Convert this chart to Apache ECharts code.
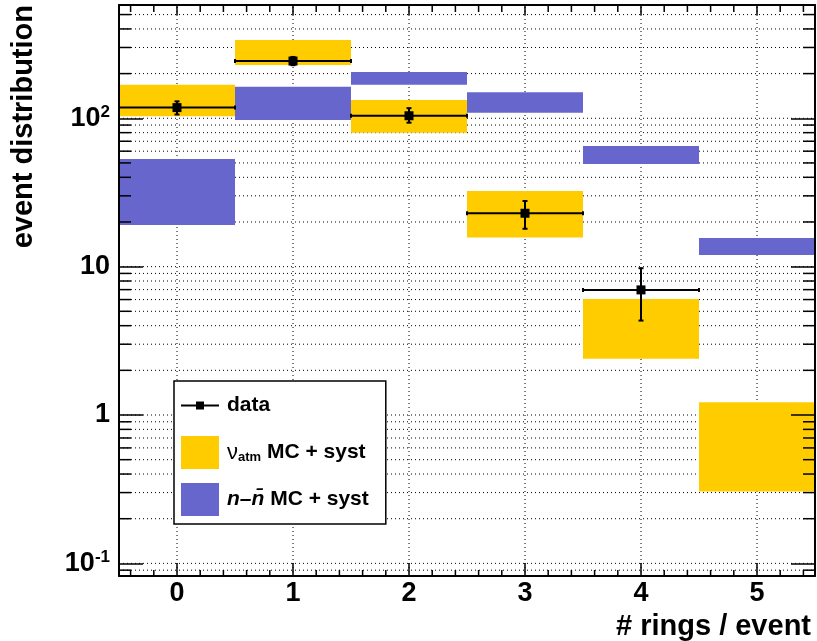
<!DOCTYPE html>
<html>
<head>
<meta charset="utf-8">
<script src="https://cdn.jsdelivr.net/npm/echarts@6/dist/echarts.min.js"></script>
<style>html,body{margin:0;padding:0;background:#fff}#chart{width:817px;height:641px}</style>
</head>
<body>
<div id="chart"></div>
<script>
// bins of ring multiplicity
var bins = [0, 1, 2, 3, 4, 5];
// atmospheric nu MC band (low / high)
var nuLow  = [103, 229, 80, 15.7, 2.39, 0.305];
var nuHigh = [168, 337, 133, 32.4, 6.06, 1.22];
// n-nbar MC band (low / high)
var nnLow  = [19.1, 97.4, 168, 109, 49.2, 12.0];
var nnHigh = [53.2, 163, 205, 150, 65.1, 15.6];
// data points with errors
var dataBins = [0, 1, 2, 3, 4];
var dataVal  = [118, 243, 104, 22.9, 6.97];
var dataLow  = [106, 228, 93.4, 18.0, 4.33];
var dataHigh = [130, 259, 117, 27.7, 9.76];
var seriesNames = ['data', 'ν_atm MC + syst', 'n–n̄ MC + syst'];

var yMin = 0.0822, yMax = 580, xMin = -0.5, xMax = 5.5;
var font = '"Liberation Sans", Helvetica, Arial, sans-serif';
var yellow = '#ffcc00', purple = '#6666cc';

// grid line / minor tick positions (decoration only)
var gridY = [], minorY = [];
for (var d = -2; d <= 3; d++) {
    for (var m = 1; m <= 9; m++) {
        var v = +(m * Math.pow(10, d)).toPrecision(3);
        if (v > yMin && v < yMax) {
            gridY.push(v);
            if (m > 1) minorY.push(v);
        }
    }
}
var minorX = [];
for (var k = -2; k <= 27; k++) {
    if (k % 5 !== 0) minorX.push(+(k * 0.2).toFixed(1));
}

function renderBox(params, api) {
    var x = api.value(0);
    var p1 = api.coord([x - 0.5, api.value(2)]);
    var p2 = api.coord([x + 0.5, api.value(1)]);
    return {
        type: 'rect',
        shape: {x: p1[0], y: p1[1], width: p2[0] - p1[0], height: p2[1] - p1[1]},
        style: {fill: api.visual('color')}
    };
}

function renderData(params, api) {
    var x = api.value(0), y = api.value(1);
    var c = api.coord([x, y]);
    var l = api.coord([x - 0.5, y]);
    var r = api.coord([x + 0.5, y]);
    var lo = api.coord([x, api.value(2)]);
    var hi = api.coord([x, api.value(3)]);
    var st = {stroke: '#000', lineWidth: 2};
    return {type: 'group', children: [
        {type: 'line', shape: {x1: l[0], y1: c[1], x2: r[0], y2: c[1]}, style: st},
        {type: 'line', shape: {x1: l[0], y1: c[1] - 2, x2: l[0], y2: c[1] + 2}, style: st},
        {type: 'line', shape: {x1: r[0], y1: c[1] - 2, x2: r[0], y2: c[1] + 2}, style: st},
        {type: 'line', shape: {x1: c[0], y1: lo[1], x2: c[0], y2: hi[1]}, style: st},
        {type: 'line', shape: {x1: c[0] - 2.5, y1: lo[1], x2: c[0] + 2.5, y2: lo[1]}, style: st},
        {type: 'line', shape: {x1: c[0] - 2.5, y1: hi[1], x2: c[0] + 2.5, y2: hi[1]}, style: st},
        {type: 'rect', shape: {x: c[0] - 4.5, y: c[1] - 4.5, width: 9, height: 9}, style: {fill: '#000'}}
    ]};
}

var dotted = {stroke: '#000', lineWidth: 1, lineDash: [1, 3]};

function renderHGrid(params, api) {
    var a = api.coord([xMin, api.value(1)]);
    var b = api.coord([xMax, api.value(1)]);
    return {type: 'line', shape: {x1: a[0], y1: a[1], x2: b[0], y2: b[1]}, style: dotted};
}
function renderVGrid(params, api) {
    var a = api.coord([api.value(0), yMin]);
    var b = api.coord([api.value(0), yMax]);
    return {type: 'line', shape: {x1: a[0], y1: a[1], x2: b[0], y2: b[1]}, style: dotted};
}
function renderYMinor(params, api) {
    var a = api.coord([xMin, api.value(1)]);
    var b = api.coord([xMax, api.value(1)]);
    var st = {stroke: '#000', lineWidth: 1.5};
    return {type: 'group', children: [
        {type: 'line', shape: {x1: a[0], y1: a[1], x2: a[0] + 12, y2: a[1]}, style: st},
        {type: 'line', shape: {x1: b[0] - 12, y1: b[1], x2: b[0], y2: b[1]}, style: st}
    ]};
}
function renderXMinor(params, api) {
    var a = api.coord([api.value(0), yMin]);
    var b = api.coord([api.value(0), yMax]);
    var st = {stroke: '#000', lineWidth: 1.5};
    return {type: 'group', children: [
        {type: 'line', shape: {x1: a[0], y1: a[1], x2: a[0], y2: a[1] - 6}, style: st},
        {type: 'line', shape: {x1: b[0], y1: b[1], x2: b[0], y2: b[1] + 7}, style: st}
    ]};
}

function yFmt(v) {
    var e = Math.log10(v), r = Math.round(e);
    if (Math.abs(e - r) > 1e-6) return '';
    if (r === 0) return '{b|1}';
    if (r === 1) return '{b|10}';
    return '{b|10}{s|' + r + '}';
}

var frameLine = {show: true, onZero: false, lineStyle: {color: '#000', width: 2}};
var labelFont = {fontSize: 27, fontWeight: 'bold', fontFamily: font, color: '#000'};

// legend marker for data: line + square, padded with tiny corner dots so it spans 38x33
var dataIcon = 'path://M0,0L0.01,0L0,0.01Z M38,33L37.99,33L38,32.99Z ' +
               'M0,15.5L38,15.5L38,17.5L0,17.5Z M15,12.5L23,12.5L23,20.5L15,20.5Z';

var option = {
    animation: false,
    backgroundColor: '#fff',
    grid: {left: 119, top: 5, right: 2, bottom: 65, containLabel: false, outerBoundsMode: 'none'},
    xAxis: [{
        type: 'value', min: xMin, max: xMax, position: 'bottom', z: 10,
        axisLine: frameLine,
        axisTick: {show: true, inside: true, length: 13, lineStyle: {color: '#000', width: 1.5}},
        axisLabel: Object.assign({
            margin: 4,
            formatter: function (v) { return Number.isInteger(v) ? String(v) : ''; }
        }, labelFont),
        splitLine: {show: false}
    }, {
        type: 'value', min: xMin, max: xMax, position: 'top', z: 10,
        axisLine: frameLine,
        axisTick: {show: true, inside: true, length: 10, lineStyle: {color: '#000', width: 1.5}},
        axisLabel: {show: false},
        splitLine: {show: false}
    }],
    yAxis: [{
        type: 'log', logBase: 10, min: yMin, max: yMax, position: 'left', z: 10,
        axisLine: frameLine,
        axisTick: {show: true, inside: true, length: 24, lineStyle: {color: '#000', width: 1.5}},
        axisLabel: {
            margin: 9,
            formatter: yFmt,
            rich: {
                b: labelFont,
                s: {fontSize: 17, fontWeight: 'bold', fontFamily: font, color: '#000', padding: [0, 0, 12, 0]}
            }
        },
        splitLine: {show: false}
    }, {
        type: 'log', logBase: 10, min: yMin, max: yMax, position: 'right', z: 10,
        axisLine: frameLine,
        axisTick: {show: true, inside: true, length: 24, lineStyle: {color: '#000', width: 1.5}},
        axisLabel: {show: false},
        splitLine: {show: false}
    }],
    legend: {
        orient: 'vertical',
        left: 174, top: 381,
        data: [
            {name: seriesNames[0], icon: dataIcon},
            {name: seriesNames[1], icon: 'rect'},
            {name: seriesNames[2], icon: 'rect'}
        ],
        selectedMode: false,
        backgroundColor: '#fff',
        borderColor: '#000',
        borderWidth: 1.5,
        borderRadius: 0,
        padding: [8, 17, 8, 7],
        itemWidth: 38,
        itemHeight: 33,
        itemGap: 14,
        formatter: function (name) {
            if (name === seriesNames[1]) return '{nu|ν}{sub|atm}{t| MC + syst}';
            if (name === seriesNames[2]) return '{it|n–n\u0304}{t| MC + syst}';
            return '{t|data}';
        },
        textStyle: {
            color: '#000', fontFamily: font, fontSize: 21, fontWeight: 'bold', padding: [0, 0, 0, 3],
            rich: {
                t: {fontSize: 21, fontWeight: 'bold', fontFamily: font, color: '#000'},
                nu: {fontSize: 22, fontWeight: 'normal', fontFamily: font, color: '#000'},
                sub: {fontSize: 13, fontWeight: 'bold', fontFamily: font, color: '#000', padding: [10, 0, 0, 0]},
                it: {fontSize: 21, fontWeight: 'bold', fontStyle: 'italic', fontFamily: font, color: '#000'}
            }
        }
    },
    graphic: [
        {type: 'text', x: 24, y: 5, rotation: Math.PI / 2,
         style: {text: 'event distribution', fill: '#000', font: 'bold 29px ' + font, align: 'right', verticalAlign: 'middle'}},
        {type: 'text', x: 811, y: 627,
         style: {text: '# rings / event', fill: '#000', font: 'bold 29px ' + font, align: 'right', verticalAlign: 'middle'}}
    ],
    series: [{
        name: 'hgrid', type: 'custom', z: 1, silent: true,
        renderItem: renderHGrid,
        data: gridY.map(function (v) { return [xMin, v]; })
    }, {
        name: 'vgrid', type: 'custom', z: 1, silent: true,
        renderItem: renderVGrid,
        data: bins.map(function (b) { return [b, yMin]; })
    }, {
        name: seriesNames[1], type: 'custom', z: 2,
        itemStyle: {color: yellow},
        renderItem: renderBox,
        encode: {x: 0, y: [1, 2]},
        data: bins.map(function (b, i) { return [b, nuLow[i], nuHigh[i]]; })
    }, {
        name: seriesNames[2], type: 'custom', z: 3,
        itemStyle: {color: purple},
        renderItem: renderBox,
        encode: {x: 0, y: [1, 2]},
        data: bins.map(function (b, i) { return [b, nnLow[i], nnHigh[i]]; })
    }, {
        name: seriesNames[0], type: 'custom', z: 4,
        itemStyle: {color: '#000'},
        renderItem: renderData,
        encode: {x: 0, y: 1},
        data: dataBins.map(function (b, i) { return [b, dataVal[i], dataLow[i], dataHigh[i]]; })
    }, {
        name: 'yminor', type: 'custom', z: 11, silent: true,
        renderItem: renderYMinor,
        data: minorY.map(function (v) { return [xMin, v]; })
    }, {
        name: 'xminor', type: 'custom', z: 11, silent: true,
        renderItem: renderXMinor,
        data: minorX.map(function (v) { return [v, yMin]; })
    }]
};

var chart = echarts.init(document.getElementById('chart'));
chart.setOption(option);
</script>
</body>
</html>
